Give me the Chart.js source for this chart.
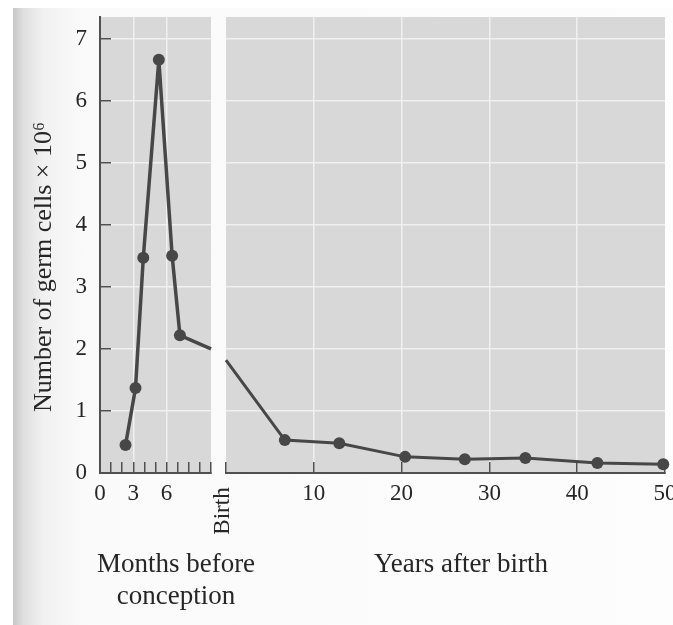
<!DOCTYPE html>
<html>
<head>
<meta charset="utf-8">
<title>Number of germ cells</title>
<script src="https://cdn.jsdelivr.net/npm/chart.js@4.4.1/dist/chart.umd.min.js"></script>
<style>
  html, body { margin: 0; padding: 0; background: #fff; }
  #wrap { position: relative; width: 673px; height: 625px; overflow: hidden; }
  #paper {
    position: absolute; left: 13px; top: 8px; right: 0; bottom: 0;
    background: linear-gradient(to right, #c6c6c6 0px, #dedede 10px, #f1f1f1 30px, #fafafa 70px, #fdfdfd 100%);
  }
  canvas { position: absolute; left: 0; top: 0; }
</style>
</head>
<body>
<div id="wrap">
  <div id="paper"></div>
  <canvas id="monthsChart" width="673" height="625"></canvas>
  <canvas id="yearsChart" width="673" height="625"></canvas>
</div>
<script>
// Values (germ cells x 10^6)
const monthsX = [2.3, 3.2, 3.9, 5.3, 6.5, 7.2, 10];
const monthsCells = [0.45, 1.37, 3.47, 6.66, 3.5, 2.22, 2.0];
const yearsX = [0, 6.7, 12.9, 20.4, 27.2, 34.1, 42.3, 49.8];
const yearsCells = [1.82, 0.53, 0.48, 0.26, 0.22, 0.24, 0.16, 0.14];

// Axis ticks
const yTicks = [0, 1, 2, 3, 4, 5, 6, 7];
const monthTicks = [0, 1, 2, 3, 4, 5, 6, 7, 8, 9, 10];
const monthLabels = [0, 3, 6];
const yearTicks = [0, 10, 20, 30, 40, 50];
const yearLabels = [10, 20, 30, 40, 50];

const Y_MAX = 7.35;
const SERIF = '"Liberation Serif", "DejaVu Serif", serif';
const TEXT = '#262626';
const LINE = '#474747';
const AXIS = '#505050';
const GRID = '#f0f0f0';
const PANEL = '#d8d8d8';

// Grey panel behind the plot area
const panelBackground = {
    id: 'panelBackground',
    beforeDraw(chart) {
        const { ctx, chartArea: a } = chart;
        ctx.save();
        ctx.fillStyle = PANEL;
        ctx.fillRect(a.left, a.top, a.right - a.left, a.bottom - a.top);
        ctx.restore();
    }
};

// Free text (axis titles, "Birth")
function textLabels(items) {
    return {
        id: 'textLabels',
        afterDraw(chart) {
            const ctx = chart.ctx;
            items.forEach(it => {
                ctx.save();
                ctx.translate(it.x, it.y);
                ctx.rotate(it.rotate || 0);
                ctx.font = it.size + 'px ' + SERIF;
                ctx.fillStyle = TEXT;
                ctx.textAlign = 'center';
                ctx.textBaseline = 'middle';
                ctx.fillText(it.text, 0, 0);
                ctx.restore();
            });
        }
    };
}

function yScale(showLabels, width) {
    return {
        type: 'linear',
        min: 0,
        max: Y_MAX,
        afterBuildTicks: s => { s.ticks = yTicks.map(v => ({ value: v })); },
        afterFit: s => { s.width = width; s.paddingTop = 0; s.paddingBottom = 0; },
        grid: {
            color: c => (c.tick && c.tick.value > 0) ? GRID : 'rgba(0,0,0,0)',
            lineWidth: 1.5,
            drawTicks: showLabels,
            tickColor: AXIS,
            tickLength: -11,
            tickWidth: 1.5
        },
        border: { display: showLabels, color: AXIS, width: 2 },
        ticks: {
            display: showLabels,
            padding: 24,
            color: TEXT,
            font: { family: SERIF, size: 23 }
        }
    };
}

function xScale(min, max, ticks, labels, gridAt) {
    return {
        type: 'linear',
        min: min,
        max: max,
        afterBuildTicks: s => { s.ticks = ticks.map(v => ({ value: v })); },
        afterFit: s => { s.height = 152; s.paddingLeft = 0; s.paddingRight = 0; },
        grid: {
            color: c => (c.tick && gridAt.includes(c.tick.value)) ? GRID : 'rgba(0,0,0,0)',
            lineWidth: 1.5,
            tickColor: AXIS,
            tickLength: -11,
            tickWidth: 1.5
        },
        border: { color: AXIS, width: 2 },
        ticks: {
            autoSkip: false,
            maxRotation: 0,
            padding: 18,
            color: TEXT,
            font: { family: SERIF, size: 23 },
            callback: v => labels.includes(v) ? String(v) : ''
        }
    };
}

// Left panel: months
new Chart(document.getElementById('monthsChart'), {
    type: 'line',
    data: {
        datasets: [{
            data: monthsX.map((x, i) => ({ x: x, y: monthsCells[i] })),
            borderColor: LINE,
            borderWidth: 3.5,
            pointRadius: c => c.dataIndex === monthsX.length - 1 ? 0 : 6,
            pointBackgroundColor: LINE,
            pointBorderWidth: 0,
            clip: false
        }]
    },
    options: {
        responsive: false,
        animation: false,
        layout: { padding: { top: 17, right: 462, left: 0, bottom: 0 } },
        plugins: { legend: { display: false }, tooltip: { enabled: false } },
        scales: {
            x: xScale(0, 10, monthTicks, monthLabels, [3, 6]),
            y: yScale(true, 100)
        }
    },
    plugins: [panelBackground, textLabels([
        { text: 'Number of germ cells \u00d7 10\u2076', x: 44, y: 267, size: 26, rotate: -Math.PI / 2 },
        { text: 'Months before', x: 176, y: 565, size: 27 },
        { text: 'conception', x: 176, y: 597, size: 27 }
    ])]
});

// Right panel: years
new Chart(document.getElementById('yearsChart'), {
    type: 'line',
    data: {
        datasets: [{
            data: yearsX.map((x, i) => ({ x: x, y: yearsCells[i] })),
            borderColor: LINE,
            borderWidth: 3,
            pointRadius: c => c.dataIndex === 0 ? 0 : 6,
            pointBackgroundColor: LINE,
            pointBorderWidth: 0,
            clip: false
        }]
    },
    options: {
        responsive: false,
        animation: false,
        layout: { padding: { top: 17, right: 8, left: 0, bottom: 0 } },
        plugins: { legend: { display: false }, tooltip: { enabled: false } },
        scales: {
            x: xScale(0, 50, yearTicks, yearLabels, [10, 20, 30, 40]),
            y: yScale(false, 226)
        }
    },
    plugins: [panelBackground, textLabels([
        { text: 'Birth', x: 223, y: 511, size: 23, rotate: -Math.PI / 2 },
        { text: 'Years after birth', x: 461, y: 565, size: 27 }
    ])]
});
</script>
</body>
</html>
